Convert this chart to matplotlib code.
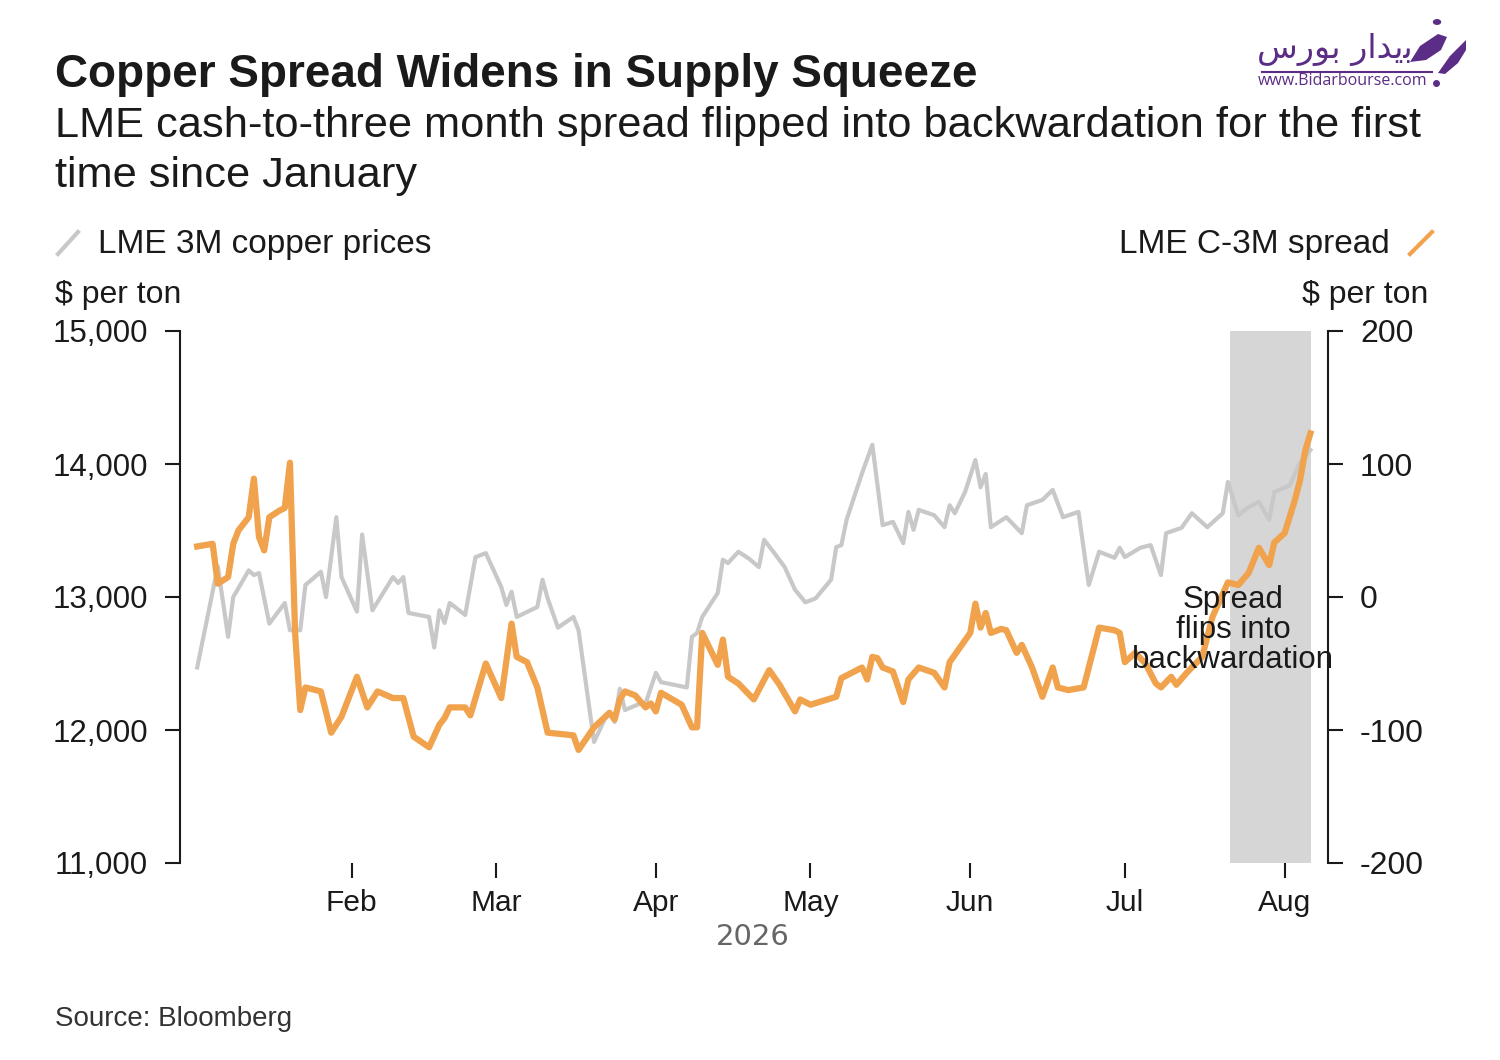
import matplotlib.pyplot as plt
import matplotlib.dates as mdates
import pandas as pd
from matplotlib.lines import Line2D
from matplotlib.patches import Polygon, Circle
from matplotlib.ticker import FuncFormatter

plt.rcParams['font.family'] = ['Liberation Sans', 'DejaVu Sans']

# LME 3M copper price, $ per ton (left axis)
price_dates = [
    '2026-01-02', '2026-01-06', '2026-01-08', '2026-01-09', '2026-01-12', '2026-01-13',
    '2026-01-14', '2026-01-16', '2026-01-19', '2026-01-20', '2026-01-22', '2026-01-23',
    '2026-01-26', '2026-01-27', '2026-01-29', '2026-01-30', '2026-02-02', '2026-02-03',
    '2026-02-05', '2026-02-09', '2026-02-10', '2026-02-11', '2026-02-12', '2026-02-16',
    '2026-02-17', '2026-02-18', '2026-02-19', '2026-02-20', '2026-02-23', '2026-02-25',
    '2026-02-27', '2026-03-02', '2026-03-03', '2026-03-04', '2026-03-05', '2026-03-09',
    '2026-03-10', '2026-03-11', '2026-03-13', '2026-03-16', '2026-03-17', '2026-03-20',
    '2026-03-22', '2026-03-23', '2026-03-24', '2026-03-25', '2026-03-26', '2026-03-29',
    '2026-03-30', '2026-04-01', '2026-04-02', '2026-04-07', '2026-04-08', '2026-04-09',
    '2026-04-10', '2026-04-13', '2026-04-14', '2026-04-15', '2026-04-17', '2026-04-19',
    '2026-04-21', '2026-04-22', '2026-04-24', '2026-04-26', '2026-04-28', '2026-04-30',
    '2026-05-02', '2026-05-05', '2026-05-06', '2026-05-07', '2026-05-08', '2026-05-11',
    '2026-05-13', '2026-05-15', '2026-05-17', '2026-05-19', '2026-05-20', '2026-05-21',
    '2026-05-22', '2026-05-25', '2026-05-27', '2026-05-28', '2026-05-29', '2026-05-31',
    '2026-06-02', '2026-06-03', '2026-06-04', '2026-06-05', '2026-06-08', '2026-06-11',
    '2026-06-12', '2026-06-15', '2026-06-17', '2026-06-19', '2026-06-22', '2026-06-24',
    '2026-06-26', '2026-06-29', '2026-06-30', '2026-07-01', '2026-07-04', '2026-07-06',
    '2026-07-08', '2026-07-09', '2026-07-12', '2026-07-14', '2026-07-15', '2026-07-17',
    '2026-07-20', '2026-07-21', '2026-07-23', '2026-07-25', '2026-07-27', '2026-07-29',
    '2026-07-30', '2026-08-02', '2026-08-04', '2026-08-06',
]
price_values = [
    12470, 13230, 12700, 13000, 13200, 13165,
    13180, 12800, 12955, 12750, 12750, 13090,
    13190, 13000, 13600, 13150, 12890, 13470,
    12900, 13150, 13105, 13150, 12880, 12850,
    12620, 12900, 12805, 12955, 12865, 13300,
    13330, 13075, 12940, 13040, 12850, 12925,
    13130, 12990, 12770, 12850, 12750, 11910,
    12075, 12130, 12060, 12310, 12150, 12200,
    12200, 12430, 12360, 12320, 12700, 12730,
    12850, 13030, 13280, 13255, 13340, 13290,
    13225, 13430, 13330, 13225, 13055, 12960,
    12990, 13130, 13375, 13390, 13580, 13930,
    14145, 13540, 13565, 13405, 13640, 13505,
    13655, 13615, 13525, 13690, 13630, 13790,
    14030, 13825, 13925, 13525, 13600, 13480,
    13690, 13730, 13805, 13600, 13640, 13090,
    13340, 13295, 13370, 13300, 13370, 13390,
    13165, 13480, 13520, 13630, 13595, 13525,
    13630, 13865, 13615, 13675, 13715, 13580,
    13790, 13840, 14010, 14105,
]

# LME cash-to-three-month spread, $ per ton (right axis)
spread_dates = [
    '2026-01-02', '2026-01-05', '2026-01-06', '2026-01-08', '2026-01-09', '2026-01-10',
    '2026-01-12', '2026-01-13', '2026-01-14', '2026-01-15', '2026-01-16', '2026-01-18',
    '2026-01-19', '2026-01-20', '2026-01-21', '2026-01-22', '2026-01-23', '2026-01-25',
    '2026-01-26', '2026-01-28', '2026-01-30', '2026-02-02', '2026-02-04', '2026-02-06',
    '2026-02-09', '2026-02-11', '2026-02-13', '2026-02-16', '2026-02-18', '2026-02-19',
    '2026-02-20', '2026-02-23', '2026-02-24', '2026-02-27', '2026-03-02', '2026-03-04',
    '2026-03-05', '2026-03-07', '2026-03-09', '2026-03-11', '2026-03-16', '2026-03-17',
    '2026-03-20', '2026-03-23', '2026-03-24', '2026-03-25', '2026-03-26', '2026-03-28',
    '2026-03-30', '2026-03-31', '2026-04-01', '2026-04-02', '2026-04-06', '2026-04-08',
    '2026-04-09', '2026-04-10', '2026-04-13', '2026-04-14', '2026-04-15', '2026-04-17',
    '2026-04-20', '2026-04-23', '2026-04-25', '2026-04-28', '2026-04-29', '2026-05-01',
    '2026-05-06', '2026-05-07', '2026-05-11', '2026-05-12', '2026-05-13', '2026-05-14',
    '2026-05-15', '2026-05-17', '2026-05-19', '2026-05-20', '2026-05-22', '2026-05-25',
    '2026-05-27', '2026-05-28', '2026-05-30', '2026-06-01', '2026-06-02', '2026-06-03',
    '2026-06-04', '2026-06-05', '2026-06-07', '2026-06-08', '2026-06-10', '2026-06-11',
    '2026-06-13', '2026-06-15', '2026-06-17', '2026-06-18', '2026-06-20', '2026-06-23',
    '2026-06-26', '2026-06-29', '2026-06-30', '2026-07-01', '2026-07-03', '2026-07-05',
    '2026-07-07', '2026-07-08', '2026-07-10', '2026-07-11', '2026-07-13', '2026-07-16',
    '2026-07-18', '2026-07-21', '2026-07-23', '2026-07-25', '2026-07-27', '2026-07-29',
    '2026-07-30', '2026-08-01', '2026-08-03', '2026-08-04', '2026-08-05', '2026-08-06',
]
spread_values = [
    38, 40, 10, 15, 40, 50,
    60, 89, 45, 35, 60, 65,
    67, 101, -27, -85, -68, -70,
    -71, -102, -90, -60, -83, -71,
    -76, -76, -105, -113, -96, -91,
    -83, -83, -89, -50, -76, -20,
    -45, -49, -68, -102, -104, -115,
    -98, -87, -92, -77, -71, -74,
    -83, -80, -86, -72, -81, -98,
    -98, -27, -51, -32, -60, -65,
    -77, -55, -66, -86, -77, -81,
    -75, -61, -53, -62, -45, -46,
    -53, -56, -79, -62, -53, -57,
    -68, -49, -38, -27, -5, -23,
    -12, -27, -24, -25, -42, -36,
    -53, -75, -53, -68, -70, -68,
    -23, -25, -27, -49, -42, -50,
    -65, -68, -60, -66, -57, -45,
    -15, 11, 9, 18, 37, 24,
    41, 48, 73, 88, 110, 123,
]

squeeze_start = '2026-07-21 10:00'
squeeze_end = '2026-08-06 02:00'

price_ticks = [11000, 12000, 13000, 14000, 15000]
spread_ticks = [-200, -100, 0, 100, 200]

W, H = 1500, 1060
ink = '#1a1a1a'
gray = '#c8c8c8'
orange = '#f0a24c'
purple = '#5b2d86'

fig = plt.figure(figsize=(W / 100, H / 100), dpi=100)
fig.patch.set_facecolor('white')


def fx(px):
    return px / W


def fy(py):
    return 1 - py / H


ax = fig.add_axes([fx(180), fy(863), fx(1328) - fx(180), fy(331) - fy(863)])
ax2 = ax.twinx()

ax.axvspan(pd.Timestamp(squeeze_start), pd.Timestamp(squeeze_end),
           color='#d6d6d6', lw=0, zorder=0)
ax.plot(pd.to_datetime(price_dates), price_values, color=gray, lw=3, zorder=2)
ax2.plot(pd.to_datetime(spread_dates), spread_values, color=orange, lw=4.5, zorder=3)

ax.set_xlim(pd.Timestamp('2025-12-29 16:00'), pd.Timestamp('2026-08-09 10:00'))
ax.set_ylim(11000, 15000)
ax2.set_ylim(-200, 200)

for a in (ax, ax2):
    for side in ('top', 'bottom'):
        a.spines[side].set_visible(False)
    a.patch.set_visible(False)
ax.spines['right'].set_visible(False)
ax2.spines['left'].set_visible(False)
ax.spines['left'].set_linewidth(1.5)
ax.spines['left'].set_color(ink)
ax2.spines['right'].set_linewidth(1.5)
ax2.spines['right'].set_color(ink)

ax.set_yticks(price_ticks)
ax.yaxis.set_major_formatter(FuncFormatter(lambda v, p: f'{v:,.0f}'))
ax2.set_yticks(spread_ticks)
ax2.yaxis.set_major_formatter(FuncFormatter(lambda v, p: f'{v:.0f}'))
ax.tick_params(axis='y', length=11, width=1.5, pad=12, labelsize=22.5,
               color=ink, labelcolor=ink)
ax2.tick_params(axis='y', length=11, width=1.5, pad=12, labelsize=23,
                color=ink, labelcolor=ink)

ax.xaxis.set_major_locator(mdates.MonthLocator(bymonth=range(2, 9)))
ax.xaxis.set_major_formatter(mdates.DateFormatter('%b'))
ax.tick_params(axis='x', length=11, width=1.5, pad=8, labelsize=21.5,
               color=ink, labelcolor=ink)

ax2.text(pd.Timestamp('2026-07-22 00:00'), -25, 'Spread\nflips into\nbackwardation',
         ha='center', va='center', fontsize=22.5, color=ink, linespacing=1.0, zorder=5)

fig.text(fx(753), fy(937), '2026', ha='center', va='center', fontsize=21,
         color='#666666', family='DejaVu Sans')

# header
fig.text(fx(55), fy(87), 'Copper Spread Widens in Supply Squeeze', fontsize=33,
         fontweight='bold', color=ink, va='baseline')
fig.text(fx(55), fy(137), 'LME cash-to-three month spread flipped into backwardation for the first',
         fontsize=31.2, color=ink, va='baseline')
fig.text(fx(55), fy(187), 'time since January', fontsize=31.2, color=ink, va='baseline')

# legend
fig.add_artist(Line2D([fx(58), fx(78)], [fy(254), fy(232)], color=gray, lw=3))
fig.text(fx(98), fy(253), 'LME 3M copper prices', fontsize=24, color=ink, va='baseline')
fig.add_artist(Line2D([fx(1410), fx(1432)], [fy(254), fy(232)], color=orange, lw=3))
fig.text(fx(1390), fy(253), 'LME C-3M spread', fontsize=24, color=ink, va='baseline', ha='right')

fig.text(fx(55), fy(303), '$ per ton', fontsize=23, color=ink, va='baseline')
fig.text(fx(1428), fy(303), '$ per ton', fontsize=23, color=ink, va='baseline', ha='right')

fig.text(fx(55), fy(1026), 'Source: Bloomberg', fontsize=20, color='#333333', va='baseline')

# watermark logo
fig.text(fx(1335), fy(50), '\ufeb1\ufead\ufeee\ufe91 \ufead\ufe8d\ufeaa\ufbfe\ufe91',
         fontsize=24, color=purple, ha='center', va='center', family='DejaVu Sans')
fig.add_artist(Line2D([fx(1262), fx(1432)], [fy(72), fy(72)], color=purple, lw=1.5))
fig.text(fx(1343), fy(81), 'www.Bidarbourse.com', fontsize=11.5, color=purple,
         ha='center', va='center', family='Open Sans')
fig.add_artist(Line2D([fx(1436)], [fy(83)], marker='o', ms=4, color=purple, lw=0))
blade_left = [(1410, 62), (1420, 46), (1438, 34), (1447, 37), (1441, 50), (1426, 60)]
blade_right = [(1438, 73), (1450, 56), (1466, 40), (1466, 50), (1458, 63), (1445, 74)]
for blade in (blade_left, blade_right):
    fig.add_artist(Polygon([(fx(px), fy(py)) for px, py in blade], closed=True,
                           facecolor=purple, edgecolor='none', transform=fig.transFigure))
fig.add_artist(Circle((fx(1437), fy(22)), 0.0028, facecolor=purple, edgecolor='none',
                      transform=fig.transFigure))

fig.savefig('out.png', dpi=100)
